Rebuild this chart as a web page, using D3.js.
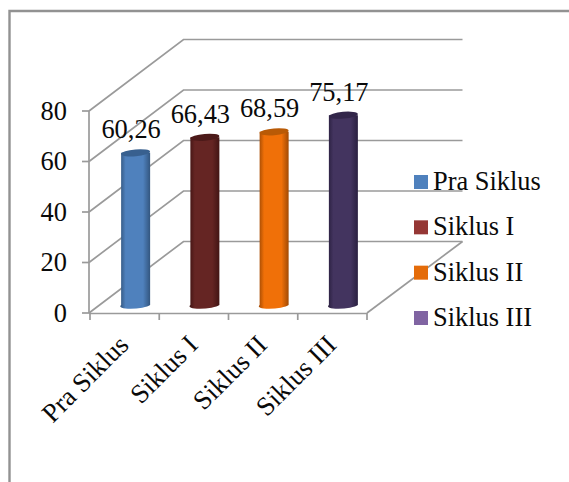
<!DOCTYPE html>
<html><head><meta charset="utf-8">
<script src="https://cdn.jsdelivr.net/npm/d3@7"></script>
<style>html,body{margin:0;padding:0;background:#fff}svg{display:block}text{font-family:"Liberation Serif",serif;fill:#0a0a0a}</style>
</head><body><svg id="c" width="569" height="482"></svg>
<script>
const categories = ["Pra Siklus","Siklus I","Siklus II","Siklus III"];
const values = [60.26,66.43,68.59,75.17];
const valueLabels = ["60,26","66,43","68,59","75,17"];
const yTicks = [0,20,40,60,80];
const mainColors = ["#4f81bd","#652523","#f07008","#43345f"];
const edgeColors = ["#33567f","#421514","#a14a04","#2a2040"];
const topColors = ["#38608f","#4c1a19","#b95a06","#32264a"];
const legendColors = ["#4f81bd","#953735","#e46c0a","#8064a2"];

const svg = d3.select("#c");
const FS = 26.4;
const x = d3.scaleBand().domain(categories).range([90,367]);
const y = d3.scaleLinear().domain([0,80]).range([313,111]);
const dx = 94.5, dy = -71.5;         // depth of the 3-D box
const barDx = 11, barDy = -8;        // bar position inside the depth
const rx = 14.5, ry = 3.4;

// frame
const frame = svg.append("g").attr("fill","none").attr("stroke","#929292").attr("stroke-width",2.4);
frame.append("path").attr("d","M569,11H9.5V482");

// gradients
const defs = svg.append("defs");
mainColors.forEach((c,i)=>{
  const g = defs.append("linearGradient").attr("id","g"+i);
  [[0,edgeColors[i]],[.18,c],[.76,c],[1,edgeColors[i]]].forEach(s=>g.append("stop").attr("offset",s[0]).attr("stop-color",s[1]));
});

// walls and gridlines
const grid = svg.append("g").attr("fill","none").attr("stroke","#9a9a9a").attr("stroke-width",1.7);
yTicks.forEach(t=>{
  grid.append("path").attr("d",`M${x.range()[0]-1},${y(t)}L${x.range()[0]-1+dx},${y(t)+dy}H${x.range()[1]+dx+1}`);
});
grid.append("path").attr("d",`M${x.range()[0]-1},${y(0)}V${y(80)}`);
grid.append("path").attr("d",`M${x.range()[1]},${y(0)}L${x.range()[1]+dx+1},${y(0)+dy}`);
// axis ticks
const ax = svg.append("g").attr("fill","none").attr("stroke","#9a9a9a").attr("stroke-width",1.7);
ax.append("path").attr("d",`M${x.range()[0]-1},${y(0)+.5}H${x.range()[1]}`);
yTicks.forEach(t=>ax.append("path").attr("d",`M${x.range()[0]-8},${y(t)}h7`));
[...categories.map(c=>x(c)),x.range()[1]].forEach(v=>ax.append("path").attr("d",`M${v},${y(0)}v7`));

// y labels
svg.append("g").selectAll("text").data(yTicks).join("text")
  .attr("x",67).attr("y",d=>y(d)+8.5).attr("text-anchor","end").attr("font-size",FS).text(d=>d);

// cylinders
categories.forEach((c,i)=>{
  const cx = x(c)+x.bandwidth()/2+barDx;
  const yb = y(0)+barDy, yt = y(values[i])+barDy;
  const g = svg.append("g");
  g.append("path").attr("fill",`url(#g${i})`)
   .attr("d",`M${cx-rx},${yt}V${yb}A${rx},${ry} -5 0 0 ${cx+rx},${yb}V${yt}Z`);
  g.append("ellipse").attr("cx",cx).attr("cy",yt).attr("rx",rx).attr("ry",ry)
   .attr("transform",`rotate(-5 ${cx} ${yt})`).attr("fill",topColors[i]);
  svg.append("text").attr("x",cx-4.5).attr("y",yt-14.5).attr("text-anchor","middle")
   .attr("font-size",FS).text(valueLabels[i]);
});

// category labels
svg.append("g").selectAll("text").data(categories).join("text")
  .attr("text-anchor","end").attr("font-size",26.8)
  .attr("transform",d=>`translate(${x(d)+x.bandwidth()/2+5.5},${y(0)+33.5}) rotate(-45)`)
  .text(d=>d);

// legend
const legendY = d3.scalePoint().domain(categories).range([182,318]);
const lg = svg.append("g");
categories.forEach((c,i)=>{
  lg.append("rect").attr("x",414).attr("y",legendY(c)-7).attr("width",14).attr("height",14).attr("fill",legendColors[i]);
  lg.append("text").attr("x",433).attr("y",legendY(c)+8).attr("font-size",FS).text(c);
});
</script></body></html>
